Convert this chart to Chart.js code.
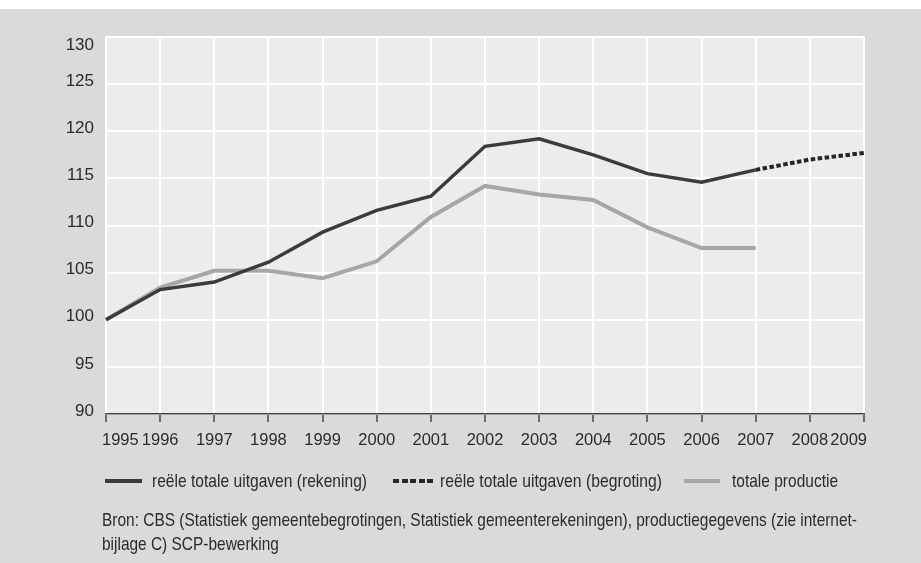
<!DOCTYPE html>
<html>
<head>
<meta charset="utf-8">
<script src="https://cdn.jsdelivr.net/npm/chart.js@4.4.1/dist/chart.umd.min.js"></script>
<style>
  html, body { margin: 0; padding: 0; background: #ffffff; }
  body { width: 921px; height: 563px; position: relative; overflow: hidden; }
  #panel { position: absolute; left: 0; top: 9px; width: 921px; height: 554px; background: #d9dadc; }
  #wrap { position: absolute; left: 0; top: 0; width: 921px; height: 563px; }
  .txt { position: absolute; font-family: 'Liberation Sans', Arial, sans-serif; font-size: 19px; color: #2b2b2b; white-space: nowrap; line-height: 24px; transform-origin: 0 50%; }
  .swatch { position: absolute; height: 4px; }
</style>
</head>
<body>
<div id="panel"></div>
<div id="wrap"><canvas id="chart" width="921" height="563"></canvas></div>

<div class="swatch" style="left:105px; top:479px; width:37px; background:#3b3b3b;"></div>
<div class="txt" id="leg1" style="left:152px; top:469px;" data-w="215"></div>
<div class="swatch" style="left:393px; top:479px; width:40px; background:repeating-linear-gradient(to right, #262626 0 6px, transparent 6px 8.5px);"></div>
<div class="txt" id="leg2" style="left:440px; top:469px;" data-w="222"></div>
<div class="swatch" style="left:684px; top:479px; width:36px; background:#a5a6a8;"></div>
<div class="txt" id="leg3" style="left:732px; top:469px;" data-w="106"></div>

<div class="txt" id="bron1" style="left:102px; top:508px;" data-w="755"></div>
<div class="txt" id="bron2" style="left:102px; top:532px;"></div>

<script>
// Jaren en reeksen (index 1995 = 100)
const years = ['1995', '1996', '1997', '1998', '1999', '2000', '2001', '2002', '2003', '2004', '2005', '2006', '2007', '2008', '2009'];
const rekening = [100, 103.2, 104.0, 106.1, 109.3, 111.6, 113.1, 118.4, 119.2, 117.5, 115.5, 114.6, 115.9, null, null];
const begroting = [null, null, null, null, null, null, null, null, null, null, null, null, 115.9, 117.0, 117.7];
const productie = [100, 103.4, 105.2, 105.2, 104.4, 106.2, 110.9, 114.2, 113.3, 112.7, 109.8, 107.6, 107.6, null, null];

const yTicks = [90, 95, 100, 105, 110, 115, 120, 125, 130];
const seriesNames = ['reële totale uitgaven (rekening)', 'reële totale uitgaven (begroting)', 'totale productie'];
const sourceLines = [
    'Bron: CBS (Statistiek gemeentebegrotingen, Statistiek gemeenterekeningen), productiegegevens (zie internet-',
    'bijlage C) SCP-bewerking'
];

document.getElementById('leg1').textContent = seriesNames[0];
document.getElementById('leg2').textContent = seriesNames[1];
document.getElementById('leg3').textContent = seriesNames[2];
document.getElementById('bron1').textContent = sourceLines[0];
document.getElementById('bron2').textContent = sourceLines[1];

// smalle letter nabootsen: tekst horizontaal schalen naar de breedte in het origineel
let bronScale = 1;
document.querySelectorAll('.txt[data-w]').forEach(el => {
    const s = parseFloat(el.dataset.w) / el.getBoundingClientRect().width;
    el.style.transform = 'scaleX(' + s + ')';
    if (el.id === 'bron1') bronScale = s;
});
document.getElementById('bron2').style.transform = 'scaleX(' + bronScale + ')';

const yFont = '17px "Liberation Sans", Arial, sans-serif';
const xFont = '16.5px "Liberation Sans", Arial, sans-serif';
const textColor = '#2b2b2b';

// Achtergrond van het plotgebied
const plotBackground = {
    id: 'plotBackground',
    beforeDraw(chart) {
        const { ctx, chartArea: a } = chart;
        ctx.save();
        ctx.fillStyle = '#ececee';
        ctx.fillRect(a.left, a.top, a.right - a.left, a.bottom - a.top);
        ctx.restore();
    }
};

// Aslabels zelf tekenen (eerste/laatste jaartal naar binnen geschoven)
const axisLabels = {
    id: 'axisLabels',
    afterDraw(chart) {
        const { ctx, chartArea: a } = chart;
        const x = chart.scales.x;
        const y = chart.scales.y;
        ctx.save();
        ctx.fillStyle = textColor;
        ctx.textBaseline = 'middle';

        ctx.font = yFont;
        ctx.textAlign = 'right';
        yTicks.forEach(v => {
            const py = Math.max(y.getPixelForValue(v) - 3, a.top + 8);
            ctx.fillText(String(v), a.left - 12, py);
        });

        ctx.font = xFont;
        years.forEach((lab, i) => {
            const px = x.getPixelForValue(i);
            let tx = px;
            if (i === 0) { ctx.textAlign = 'left'; tx = px - 4; }
            else if (i === years.length - 1) { ctx.textAlign = 'right'; tx = px + 3; }
            else { ctx.textAlign = 'center'; }
            ctx.fillText(lab, tx, a.bottom + 26);
        });
        ctx.restore();
    }
};

new Chart(document.getElementById('chart'), {
    type: 'line',
    data: {
        labels: years,
        datasets: [
            {
                label: seriesNames[0],
                data: rekening,
                borderColor: '#3b3b3b',
                borderWidth: 3.5,
                pointRadius: 0,
                tension: 0,
                spanGaps: false,
                order: 1
            },
            {
                label: seriesNames[1],
                data: begroting,
                borderColor: '#262626',
                borderWidth: 4,
                borderDash: [4.5, 2.5],
                pointRadius: 0,
                tension: 0,
                order: 2
            },
            {
                label: seriesNames[2],
                data: productie,
                borderColor: '#a5a6a8',
                borderWidth: 4,
                pointRadius: 0,
                tension: 0,
                order: 3
            }
        ]
    },
    options: {
        responsive: false,
        animation: false,
        events: [],
        layout: { padding: { left: 0, right: 57, top: 37, bottom: 0 } },
        plugins: {
            legend: { display: false },
            tooltip: { enabled: false }
        },
        scales: {
            x: {
                type: 'category',
                offset: false,
                afterFit(scale) { scale.height = 149; },
                grid: {
                    color: '#ffffff',
                    lineWidth: 2,
                    drawTicks: true,
                    tickColor: '#444444',
                    tickLength: 8,
                    tickWidth: 1.5
                },
                border: { display: true, color: '#444444', width: 1.5 },
                ticks: { display: false, autoSkip: false }
            },
            y: {
                min: 90,
                max: 130,
                afterFit(scale) { scale.width = 106; },
                afterBuildTicks(scale) { scale.ticks = yTicks.map(v => ({ value: v })); },
                grid: { color: '#ffffff', lineWidth: 2, drawTicks: false },
                border: { display: false },
                ticks: { display: false }
            }
        }
    },
    plugins: [plotBackground, axisLabels]
});
</script>
</body>
</html>
